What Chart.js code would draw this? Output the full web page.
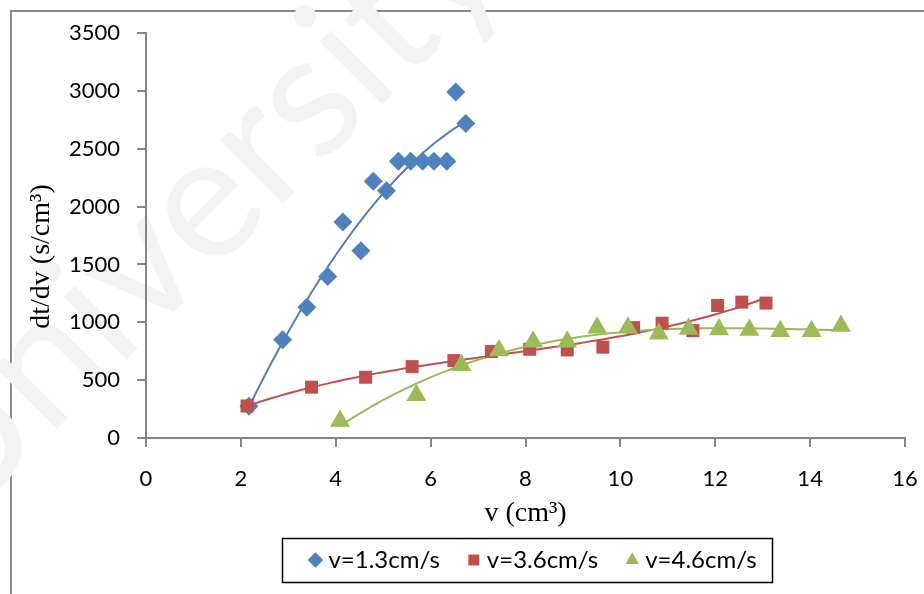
<!DOCTYPE html>
<html>
<head>
<meta charset="utf-8">
<script src="https://cdn.jsdelivr.net/npm/chart.js@4.4.0/dist/chart.umd.min.js"></script>
<style>
    html, body { margin: 0; padding: 0; background: #fff; overflow: hidden; }
    #wrap { position: relative; width: 924px; height: 594px; overflow: hidden; }
    #moldura { position: absolute; left: 10px; top: 10px; width: 1000px; height: 700px;
               border-left: 2px solid #8a8a8a; border-top: 2px solid #8a8a8a; }
    #grafico { position: absolute; left: 0; top: 0; }
</style>
</head>
<body>
<div id="wrap">
    <div id="moldura"></div>
    <canvas id="grafico" width="924" height="594"></canvas>
</div>
<script>
// ========== DADOS ==========
const legendas = ['v=1.3cm/s', 'v=3.6cm/s', 'v=4.6cm/s'];

const v13X = [2.17, 2.88, 3.39, 3.83, 4.15, 4.53, 4.79, 5.07, 5.32, 5.58, 5.83, 6.07, 6.34, 6.53, 6.74];
const v13Y = [275, 848, 1131, 1396, 1866, 1618, 2218, 2137, 2391, 2391, 2391, 2391, 2391, 2991, 2717];

const v36X = [2.13, 3.49, 4.63, 5.61, 6.49, 7.28, 8.09, 8.88, 9.63, 10.28, 10.88, 11.53, 12.05, 12.56, 13.07];
const v36Y = [277, 439, 525, 617, 669, 747, 767, 761, 785, 954, 992, 928, 1145, 1174, 1166];

const v46X = [4.09, 5.70, 6.65, 7.44, 8.16, 8.88, 9.51, 10.16, 10.81, 11.44, 12.08, 12.72, 13.37, 14.03, 14.65];
const v46Y = [147, 369, 629, 757, 831, 831, 952, 952, 902, 941, 937, 934, 923, 923, 967];

const ticksX = [0, 2, 4, 6, 8, 10, 12, 14, 16];
const ticksY = [0, 500, 1000, 1500, 2000, 2500, 3000, 3500];

// Cores (paleta Excel)
const cores = {
    azul: '#4F81BD',
    vermelho: '#C0504D',
    verde: '#9BBB59',
    eixo: '#868686'
};

// Ajuste polinomial por mínimos quadrados (linha de tendência)
function ajustePolinomial(xs, ys, grau) {
    const n = grau + 1;
    const A = [], b = [];
    for (let i = 0; i < n; i++) { A.push(new Array(n).fill(0)); b.push(0); }
    xs.forEach((x, k) => {
        for (let i = 0; i < n; i++) {
            b[i] += ys[k] * Math.pow(x, i);
            for (let j = 0; j < n; j++) A[i][j] += Math.pow(x, i + j);
        }
    });
    for (let c = 0; c < n; c++) {
        let p = c;
        for (let r = c + 1; r < n; r++) if (Math.abs(A[r][c]) > Math.abs(A[p][c])) p = r;
        [A[c], A[p]] = [A[p], A[c]];
        [b[c], b[p]] = [b[p], b[c]];
        for (let r = c + 1; r < n; r++) {
            const f = A[r][c] / A[c][c];
            for (let j = c; j < n; j++) A[r][j] -= f * A[c][j];
            b[r] -= f * b[c];
        }
    }
    const coef = new Array(n).fill(0);
    for (let i = n - 1; i >= 0; i--) {
        let s = b[i];
        for (let j = i + 1; j < n; j++) s -= A[i][j] * coef[j];
        coef[i] = s / A[i][i];
    }
    return coef;
}

function linhaTendencia(xs, ys, grau) {
    const coef = ajustePolinomial(xs, ys, grau);
    const xMin = Math.min(...xs), xMax = Math.max(...xs);
    const pontos = [];
    for (let i = 0; i <= 80; i++) {
        const x = xMin + (xMax - xMin) * i / 80;
        pontos.push({ x: x, y: coef.reduce((s, a, k) => s + a * Math.pow(x, k), 0) });
    }
    return pontos;
}

const pares = (xs, ys) => xs.map((x, i) => ({ x: x, y: ys[i] }));

// Marca d'água clara no fundo
const marcaDagua = {
    id: 'marcaDagua',
    beforeDraw(chart) {
        const c = chart.ctx;
        c.save();
        c.translate(-81, 487);
        c.rotate(-0.785);
        c.font = '175px Lato';
        c.fillStyle = '#f3f3f3';
        c.fillText('University', 0, 0);
        c.restore();
    }
};

// Legenda um pouco deslocada para a direita, como no original
const ajusteLegenda = {
    id: 'ajusteLegenda',
    afterLayout(chart) {
        chart.legend.left += 10;
        chart.legend.right += 10;
    }
};

// Moldura preta em volta da legenda
const caixaLegenda = {
    id: 'caixaLegenda',
    afterDraw(chart) {
        const hb = chart.legend.legendHitBoxes;
        if (!hb || !hb.length) return;
        const esq = hb[0].left - 32;
        const dir = hb[hb.length - 1].left + hb[hb.length - 1].width + 16;
        const meio = hb[0].top + hb[0].height / 2;
        const c = chart.ctx;
        c.save();
        c.strokeStyle = '#000';
        c.lineWidth = 1.5;
        c.strokeRect(Math.round(esq) + 0.5, Math.round(meio - 22) + 0.5, Math.round(dir - esq), 44);
        c.restore();
    }
};

const fonteTicks = { family: 'Lato', size: 22 };
const fonteTitulo = { family: '"Liberation Serif", "Times New Roman", serif', size: 28 };

const ctx = document.getElementById('grafico').getContext('2d');

new Chart(ctx, {
    type: 'scatter',
    data: {
        datasets: [
            { label: legendas[0], data: pares(v13X, v13Y), pointStyle: 'rectRot', pointRadius: 9.5,
              backgroundColor: cores.azul, borderColor: cores.azul, borderWidth: 0, order: 2 },
            { label: legendas[1], data: pares(v36X, v36Y), pointStyle: 'rect', pointRadius: 9.2,
              backgroundColor: cores.vermelho, borderColor: cores.vermelho, borderWidth: 0, order: 1 },
            { label: legendas[2], data: pares(v46X, v46Y), pointStyle: 'triangle', pointRadius: 11.5,
              backgroundColor: cores.verde, borderColor: cores.verde, borderWidth: 0, order: 0 },
            { label: 'tend1', data: linhaTendencia(v13X, v13Y, 2), showLine: true, pointRadius: 0,
              borderColor: cores.azul, borderWidth: 2, tension: 0, order: 5 },
            { label: 'tend2', data: linhaTendencia(v36X, v36Y, 3), showLine: true, pointRadius: 0,
              borderColor: cores.vermelho, borderWidth: 2, tension: 0, order: 4 },
            { label: 'tend3', data: linhaTendencia(v46X, v46Y, 3), showLine: true, pointRadius: 0,
              borderColor: cores.verde, borderWidth: 2, tension: 0, order: 3 }
        ]
    },
    options: {
        responsive: false,
        animation: false,
        layout: { padding: { left: 0, right: 19, top: 33, bottom: 12 } },
        plugins: {
            legend: {
                position: 'bottom',
                fullSize: false,
                labels: {
                    usePointStyle: true,
                    boxWidth: 2,
                    boxHeight: 11,
                    padding: 33,
                    color: '#000',
                    font: { family: 'Lato', size: 24 },
                    filter: item => item.datasetIndex < 3,
                    sort: (a, b) => a.datasetIndex - b.datasetIndex
                }
            },
            tooltip: { enabled: false }
        },
        scales: {
            x: {
                type: 'linear',
                min: ticksX[0],
                max: ticksX[ticksX.length - 1],
                afterBuildTicks: s => { s.ticks = ticksX.map(v => ({ value: v })); },
                afterFit: s => { s.height = 77; s.paddingRight = 0; s.paddingLeft = 0; },
                ticks: { color: '#000', font: fonteTicks, padding: 19, maxRotation: 0,
                         callback: v => String(v) },
                grid: { drawOnChartArea: false, tickLength: 9, color: cores.eixo, lineWidth: 2 },
                border: { color: cores.eixo, width: 2 },
                title: { display: true, text: 'v (cm³)', color: '#000', font: fonteTitulo,
                         padding: { top: 0, bottom: -15 } }
            },
            y: {
                min: ticksY[0],
                max: ticksY[ticksY.length - 1],
                afterBuildTicks: s => { s.ticks = ticksY.map(v => ({ value: v })); },
                afterFit: s => { s.width = 146; },
                ticks: { color: '#000', font: fonteTicks, padding: 17, callback: v => String(v) },
                grid: { drawOnChartArea: false, tickLength: 9, color: cores.eixo, lineWidth: 2 },
                border: { color: cores.eixo, width: 2 },
                title: { display: true, text: 'dt/dv (s/cm³)      ', color: '#000', font: fonteTitulo,
                         padding: { top: 25, bottom: 0 } }
            }
        }
    },
    plugins: [marcaDagua, ajusteLegenda, caixaLegenda]
});
</script>
</body>
</html>
